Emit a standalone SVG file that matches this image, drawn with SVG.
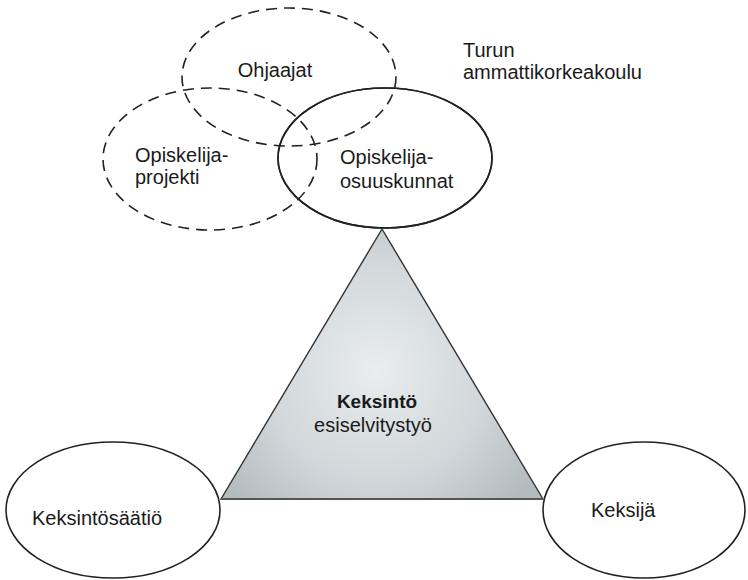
<svg xmlns="http://www.w3.org/2000/svg" width="748" height="580" viewBox="0 0 748 580">
  <defs>
    <radialGradient id="tri" cx="376" cy="370" r="190" gradientUnits="userSpaceOnUse">
      <stop offset="0" stop-color="#e9edef"/>
      <stop offset="0.6" stop-color="#d0d6d9"/>
      <stop offset="1" stop-color="#b4bbbf"/>
    </radialGradient>
  </defs>
  <style>
    .dash { fill: none; stroke: #222; stroke-width: 1.6; stroke-dasharray: 11 7; }
    .solid { fill: #fff; stroke: #222; stroke-width: 1.6; }
    .clear { fill: none; stroke: #222; stroke-width: 1.6; }
    text { font-family: "Liberation Sans", Arial, sans-serif; font-size: 20px; fill: #1a1a1a; }
    .bold { font-weight: bold; font-size: 19px; }
  </style>
  <rect width="748" height="580" fill="#fff"/>

  <g id="keksintosaatio">
    <ellipse class="solid" cx="113" cy="510" rx="107" ry="68"/>
    <text x="32" y="525">Keksintösäätiö</text>
  </g>
  <g id="keksija">
    <ellipse class="solid" cx="644" cy="510" rx="101" ry="68"/>
    <text x="591" y="517">Keksijä</text>
  </g>

  <g id="opiskelijaosuuskunnat">
    <ellipse class="solid" cx="385" cy="158" rx="107" ry="70"/>
    <text x="340" y="164">Opiskelija-</text>
    <text x="340" y="188">osuuskunnat</text>
  </g>

  <g id="keksinto">
    <polygon points="382,229 221,499 543,499" fill="url(#tri)" stroke="#333" stroke-width="1.4"/>
    <line x1="221" y1="499" x2="543" y2="499" stroke="#555" stroke-width="2"/>
    <text class="bold" x="377" y="408" text-anchor="middle">Keksintö</text>
    <text x="373" y="432" text-anchor="middle">esiselvitystyö</text>
  </g>

  <g id="ohjaajat">
    <ellipse class="dash" cx="289" cy="77" rx="107" ry="69"/>
    <text x="275" y="77" text-anchor="middle">Ohjaajat</text>
  </g>
  <g id="opiskelijaprojekti">
    <ellipse class="dash" cx="210" cy="159" rx="107" ry="71"/>
    <text x="135" y="162">Opiskelija-</text>
    <text x="135" y="184">projekti</text>
  </g>
  <g id="osuuskunnat-outline">
    <ellipse class="clear" cx="385" cy="158" rx="107" ry="70"/>
  </g>

  <g id="turun-amk">
    <text x="463" y="57">Turun</text>
    <text x="463" y="79">ammattikorkeakoulu</text>
  </g>
</svg>
